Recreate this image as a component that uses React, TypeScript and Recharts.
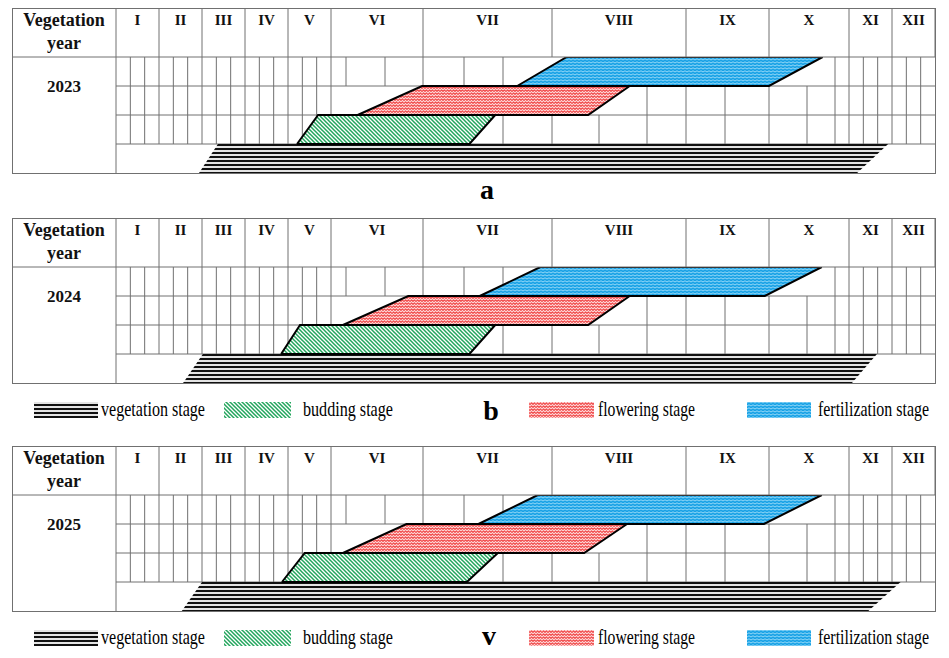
import { ComposedChart, Area, XAxis, YAxis, ReferenceLine, Legend } from 'recharts';

const years = ['2023', '2024', '2025'];
const panelLetters = ['a', 'b', 'v'];
const months = ['I', 'II', 'III', 'IV', 'V', 'VI', 'VII', 'VIII', 'IX', 'X', 'XI', 'XII'];
const stageNames = ['vegetation stage', 'budding stage', 'flowering stage', 'fertilization stage'];

// stage spans in months (month index + fraction of the month), one entry per year:
// [bottom start, top start, bottom end, top end]
const vegetationSpan = [
  [1.93, 2.37, 10.19, 10.91],
  [1.56, 2.02, 10.07, 10.65],
  [1.53, 2.0, 10.45, 11.2],
];
const buddingSpan = [
  [4.21, 4.7, 6.36, 6.56],
  [3.84, 4.28, 6.36, 6.56],
  [3.86, 4.39, 6.34, 6.58],
];
const floweringSpan = [
  [5.29, 5.99, 7.27, 7.58],
  [5.13, 5.84, 7.27, 7.58],
  [5.13, 5.82, 7.24, 7.56],
];
const fertilizationSpan = [
  [6.73, 7.11, 9.0, 9.67],
  [6.44, 6.91, 8.95, 9.66],
  [6.43, 6.89, 8.94, 9.66],
];

// layout: month columns are not equal in the table
const monthWidths = [43, 43, 43, 43, 43, 92, 129, 134, 83, 80, 43, 43];
const monthStarts: number[] = [];
monthWidths.reduce((acc, w) => {
  monthStarts.push(acc);
  return acc + w;
}, 0);
const TOTAL = monthWidths.reduce((a, b) => a + b, 0);
const boundaries = [...monthStarts, TOTAL];
const toUnits = (m: number) => {
  const i = Math.min(Math.floor(m), 11);
  return monthStarts[i] + (m - i) * monthWidths[i];
};

const CHART_W = 925;
const LEGEND_H = 46;
const CHART_H = 166 + LEGEND_H;
const PLOT_W = CHART_W - 2 - 104;
const GRID = '#707070';
const FONT = '"Liberation Serif", "Times New Roman", Times, serif';

// sub-column lines of the table rows (in months)
const early: number[] = [];
for (let i = 1; i <= 15; i++) early.push(i / 3);
const late = [10, 10 + 1 / 3, 10 + 2 / 3, 11, 11 + 1 / 3, 11 + 2 / 3];
const rowGrid: Record<number, number[]> = {
  3: [...early, 5 + 15 / 92, 5 + 54 / 92, 6, 6 + 41 / 129, 6 + 80 / 129, 9 + 66 / 80, ...late],
  2: [...early, 7 + 95 / 134, 8, 8 + 39 / 83, 9, 9 + 38 / 80, 9 + 66 / 80, ...late],
  1: [...early, 6 + 80 / 129, 7, 7 + 47 / 134, 7 + 95 / 134, 8, 8 + 39 / 83, 9, 9 + 38 / 80, 9 + 66 / 80, ...late],
};

const stageData = (span: number[], row: number) => [
  { x: toUnits(span[0]), range: [row, row] },
  { x: toUnits(span[1]), range: [row, row + 1] },
  { x: toUnits(span[2]), range: [row, row + 1] },
  { x: toUnits(span[3]), range: [row + 1, row + 1] },
];

const Patterns = ({ id }: { id: string }) => (
  <defs>
    <pattern id={`veg-${id}`} patternUnits="userSpaceOnUse" x={0} y={1} width={8} height={4}>
      <rect width={8} height={4} fill="#e4e4e4" />
      <rect width={8} height={2} fill="#111" />
    </pattern>
    <pattern id={`bud-${id}`} patternUnits="userSpaceOnUse" width={4} height={4}>
      <rect width={4} height={4} fill="#fff" />
      <path d="M-1,-1 L5,5 M-1,3 L1,5 M3,-1 L5,1" stroke="#22a55c" strokeWidth={1.5} />
    </pattern>
    <pattern id={`flo-${id}`} patternUnits="userSpaceOnUse" width={6} height={6}>
      <rect width={6} height={6} fill="#f04a4a" />
      <path d="M0,2 L1.5,0.5 L3,2 L4.5,0.5 L6,2 M0,5 L1.5,3.5 L3,5 L4.5,3.5 L6,5" stroke="#ffdede" strokeWidth={1.05} fill="none" />
    </pattern>
    <pattern id={`fer-${id}`} patternUnits="userSpaceOnUse" width={8} height={6}>
      <rect width={8} height={6} fill="#19a2e6" />
      <path d="M0,2 L2,0.8 L4,2 L6,0.8 L8,2 M0,5 L2,3.8 L4,5 L6,3.8 L8,5" stroke="#96d9f8" strokeWidth={1} fill="none" />
    </pattern>
  </defs>
);

const fills = ['veg', 'bud', 'flo', 'fer'];

const legendLayout = [
  { swatch: [34, 98], text: 101, len: 104 },
  { swatch: [224, 291], text: 303, len: 90 },
  { swatch: [529, 594], text: 598, len: 97 },
  { swatch: [747, 811], text: 818, len: 111 },
];
const LEGEND_SQUEEZE = 0.76;
const letterX = [487, 491, 489];
const letterY = [26, 37, 34];

function Panel({ index, top }: { index: number; top: number }) {
  const id = `p${index}`;
  const spans = [vegetationSpan[index], buddingSpan[index], floweringSpan[index], fertilizationSpan[index]];
  const scale = PLOT_W / TOTAL;

  const monthTick = (props: any) => {
    const { x, y, index: i } = props;
    if (i >= months.length) return <g />;
    const cx = x + (monthWidths[i] * scale) / 2;
    return (
      <text x={cx} y={y + 17} textAnchor="middle" fontFamily={FONT} fontWeight="bold" fontSize={15} fill="#111">
        {months[i]}
      </text>
    );
  };

  const yearTick = (props: any) => {
    const { x, y, payload } = props;
    const cx = x - 52;
    if (payload.value === 4) {
      return (
        <g>
          <line x1={x - 104} x2={x} y1={y} y2={y} stroke={GRID} />
          <text x={cx} y={y - 31} textAnchor="middle" fontFamily={FONT} fontWeight="bold" fontSize={18} fill="#111">
            Vegetation
          </text>
          <text x={cx} y={y - 8} textAnchor="middle" fontFamily={FONT} fontWeight="bold" fontSize={18} fill="#111">
            year
          </text>
        </g>
      );
    }
    return (
      <text x={cx} y={y + 6} textAnchor="middle" fontFamily={FONT} fontWeight="bold" fontSize={17} fill="#111">
        {years[index]}
      </text>
    );
  };

  const renderLegend = () => (
    <svg width={CHART_W} height={LEGEND_H} style={{ display: 'block' }}>
      {index > 0 &&
        legendLayout.map((l, s) => (
          <g key={s}>
            <rect x={l.swatch[0] - 11} y={19} width={l.swatch[1] - l.swatch[0]} height={16} fill={`url(#${fills[s]}-${id})`} />
            <text
              transform={`translate(${l.text - 11},33) scale(${LEGEND_SQUEEZE},1)`}
              fontFamily={FONT}
              fontSize={22}
              textLength={l.len / LEGEND_SQUEEZE}
              lengthAdjust="spacingAndGlyphs"
              fill="#000"
            >
              {stageNames[s]}
            </text>
          </g>
        ))}
      <text x={letterX[index] - 11} y={letterY[index]} textAnchor="middle" fontFamily={FONT} fontWeight="bold" fontSize={28} fill="#000">
        {panelLetters[index]}
      </text>
    </svg>
  );

  return (
    <div style={{ position: 'absolute', left: 11, top, width: CHART_W, height: CHART_H }}>
      <ComposedChart width={CHART_W} height={CHART_H} margin={{ top: 1, right: 1, bottom: 0, left: 1 }}>
        <Patterns id={id} />
        <XAxis
          type="number"
          dataKey="x"
          domain={[0, TOTAL]}
          ticks={boundaries}
          interval={0}
          orientation="top"
          height={49}
          tickSize={49}
          tickMargin={0}
          stroke={GRID}
          tickLine={{ stroke: GRID }}
          tick={monthTick}
          allowDataOverflow
        />
        <YAxis
          type="number"
          domain={[0, 4]}
          ticks={[3, 4]}
          interval={0}
          width={104}
          tickSize={0}
          tickMargin={0}
          tickLine={false}
          stroke={GRID}
          tick={yearTick}
          allowDataOverflow
        />
        {[1, 2, 3].map((r) => (
          <ReferenceLine key={`h${r}`} y={r} stroke={GRID} strokeWidth={1} zIndex={-50} />
        ))}
        {[1, 2, 3].map((r) =>
          rowGrid[r].map((m, k) => (
            <ReferenceLine
              key={`v${r}-${k}`}
              segment={[
                { x: toUnits(m), y: r },
                { x: toUnits(m), y: r + 1 },
              ]}
              stroke={GRID}
              strokeWidth={1}
              zIndex={-50}
            />
          ))
        )}
        {spans.map((span, s) => (
          <Area
            key={s}
            name={stageNames[s]}
            data={stageData(span, s)}
            dataKey="range"
            type="linear"
            fill={`url(#${fills[s]}-${id})`}
            fillOpacity={1}
            stroke={s === 0 ? 'none' : '#000'}
            strokeWidth={2}
            dot={false}
            activeDot={false}
            isAnimationActive={false}
          />
        ))}
        <Legend
          verticalAlign="bottom"
          height={LEGEND_H}
          content={renderLegend}
          wrapperStyle={{ left: 0, width: CHART_W, height: LEGEND_H }}
        />
      </ComposedChart>
      <div
        style={{
          position: 'absolute',
          left: 1,
          top: 1,
          width: 924,
          height: 166,
          border: `1px solid ${GRID}`,
          boxSizing: 'border-box',
          pointerEvents: 'none',
        }}
      />
    </div>
  );
}

export default function App() {
  return (
    <div style={{ position: 'absolute', left: 0, top: 0, width: 949, height: 658, background: '#fff' }}>
      <Panel index={0} top={7} />
      <Panel index={1} top={217} />
      <Panel index={2} top={445} />
    </div>
  );
}
